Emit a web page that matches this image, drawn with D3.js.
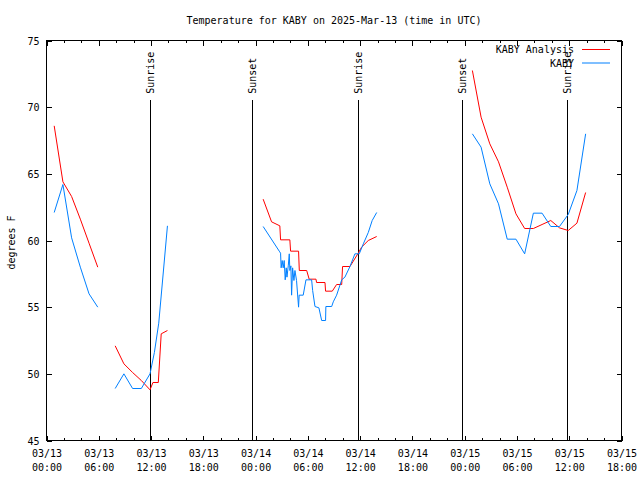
<!DOCTYPE html>
<html><head><meta charset="utf-8">
<script src="https://cdn.jsdelivr.net/npm/d3@7"></script>
<style>
body{margin:0;background:#fff}
svg text{font-family:"DejaVu Sans Mono",monospace;font-size:10px;fill:#000}
</style></head><body>
<svg id="c" width="640" height="480"></svg>
<script>
const title = "Temperature for KABY on 2025-Mar-13 (time in UTC)";
const yLabel = "degrees F";
const seriesNames = ["KABY Analysis", "KABY"];
const seriesColors = ["#ff0000", "#0080ff"];
const yTicks = [45, 50, 55, 60, 65, 70, 75];
const xDomain = ["2025-03-13 00:00", "2025-03-15 18:00"];
const sunTimes = ["2025-03-13 11:53", "2025-03-13 23:40", "2025-03-14 11:49", "2025-03-14 23:45", "2025-03-15 11:48"];
const sunLabels = ["Sunrise", "Sunset", "Sunrise", "Sunset", "Sunrise"];

// null temperature = gap in the line
const analysisTime = [
  "2025-03-13 00:53","2025-03-13 01:53","2025-03-13 02:53","2025-03-13 03:53","2025-03-13 04:53","2025-03-13 05:53",
  "2025-03-13 06:30",
  "2025-03-13 07:53","2025-03-13 08:53","2025-03-13 09:53","2025-03-13 10:53","2025-03-13 11:53","2025-03-13 12:13","2025-03-13 12:50","2025-03-13 13:10","2025-03-13 13:53",
  "2025-03-13 18:00",
  "2025-03-14 00:52","2025-03-14 01:50","2025-03-14 02:47","2025-03-14 02:52","2025-03-14 03:56","2025-03-14 04:01","2025-03-14 04:56","2025-03-14 05:01","2025-03-14 05:52","2025-03-14 06:09","2025-03-14 06:56","2025-03-14 07:00","2025-03-14 07:58","2025-03-14 08:02","2025-03-14 08:48","2025-03-14 09:18","2025-03-14 09:53","2025-03-14 09:59","2025-03-14 10:50","2025-03-14 11:47","2025-03-14 12:10","2025-03-14 12:56","2025-03-14 13:54",
  "2025-03-14 18:00",
  "2025-03-15 00:53","2025-03-15 01:53","2025-03-15 02:53","2025-03-15 03:53","2025-03-15 04:53","2025-03-15 05:53","2025-03-15 06:53","2025-03-15 07:53","2025-03-15 08:53","2025-03-15 09:53","2025-03-15 10:53","2025-03-15 11:53","2025-03-15 12:53","2025-03-15 13:53"
];
const analysisTemp = [
  68.6,64.4,63.3,61.6,59.8,58.0,
  null,
  52.1,50.75,50.1,49.5,48.8,49.35,49.35,53.0,53.25,
  null,
  63.1,61.4,61.1,60.05,60.05,59.2,59.2,57.75,57.75,57.1,57.1,56.85,56.85,56.2,56.2,56.7,56.7,58.05,58.05,59.05,59.5,60.0,60.3,
  null,
  72.75,69.25,67.25,65.9,64.0,62.0,60.9,60.9,61.2,61.5,60.95,60.75,61.3,63.6
];

const obsTime = [
  "2025-03-13 00:53","2025-03-13 01:53","2025-03-13 02:53","2025-03-13 03:53","2025-03-13 04:53","2025-03-13 05:53",
  "2025-03-13 06:30",
  "2025-03-13 07:53","2025-03-13 08:53","2025-03-13 09:53","2025-03-13 10:53","2025-03-13 11:53","2025-03-13 12:23","2025-03-13 12:53","2025-03-13 13:53",
  "2025-03-13 18:00",
  "2025-03-14 00:52","2025-03-14 02:43","2025-03-14 02:52","2025-03-14 02:56","2025-03-14 03:03","2025-03-14 03:10","2025-03-14 03:17","2025-03-14 03:24","2025-03-14 03:31","2025-03-14 03:36","2025-03-14 03:45","2025-03-14 03:52","2025-03-14 03:56","2025-03-14 04:03","2025-03-14 04:08","2025-03-14 04:15","2025-03-14 04:24","2025-03-14 04:31","2025-03-14 04:42","2025-03-14 04:56","2025-03-14 05:00","2025-03-14 05:28","2025-03-14 05:47","2025-03-14 06:26","2025-03-14 06:33","2025-03-14 06:49","2025-03-14 07:16","2025-03-14 07:35","2025-03-14 08:02","2025-03-14 08:04","2025-03-14 08:44","2025-03-14 08:55","2025-03-14 09:18","2025-03-14 09:53","2025-03-14 10:15","2025-03-14 10:50","2025-03-14 11:24","2025-03-14 11:54","2025-03-14 12:22","2025-03-14 12:56","2025-03-14 13:23","2025-03-14 13:54",
  "2025-03-14 18:00",
  "2025-03-15 00:53","2025-03-15 01:53","2025-03-15 02:53","2025-03-15 03:53","2025-03-15 04:53","2025-03-15 05:53","2025-03-15 06:53","2025-03-15 07:53","2025-03-15 08:53","2025-03-15 09:53","2025-03-15 10:53","2025-03-15 11:53","2025-03-15 12:53","2025-03-15 13:53"
];
const obsTemp = [
  62.1,64.2,60.2,58.0,56.0,55.0,
  null,
  48.9,50.0,48.9,48.9,50.0,51.6,53.8,61.1,
  null,
  61.05,59.2,59.05,57.95,58.5,57.95,58.5,57.05,57.95,57.25,58.1,59.0,57.75,58.1,55.9,57.95,57.0,57.75,57.0,55.0,55.9,55.9,57.05,57.05,56.25,55.05,54.95,54.0,54.0,55.05,55.05,55.4,55.9,57.05,57.25,58.05,59.0,59.0,59.75,60.6,61.5,62.1,
  null,
  68.0,67.0,64.25,62.75,60.1,60.1,59.0,62.05,62.05,61.05,61.05,61.95,63.75,68.0
];

const parse = d3.utcParse("%Y-%m-%d %H:%M");
const svg = d3.select("#c");
const L = 46.5, R = 621.5, T = 40.5, B = 440.5;
const x = d3.scaleUtc().domain(xDomain.map(parse)).range([L, R]);
const y = d3.scaleLinear().domain([45, 75]).range([B, T]);

const g = svg.append("g").attr("shape-rendering", "crispEdges");

const majors = d3.utcHour.every(6).range(x.domain()[0], d3.utcMinute.offset(x.domain()[1], 1));
const minors = d3.utcHour.every(2).range(x.domain()[0], x.domain()[1]).filter(d => d.getUTCHours() % 6 !== 0);

function styleAxis(sel) {
  sel.select(".domain").remove();
  sel.selectAll("line").attr("stroke", "#000");
  sel.attr("font-size", null).attr("font-family", null);
}

g.append("g").attr("transform", `translate(0,${B})`)
  .call(d3.axisBottom(x).tickValues(minors).tickSize(-2.5).tickFormat(""))
  .call(styleAxis);
g.append("g").attr("transform", `translate(0,${T})`)
  .call(d3.axisTop(x).tickValues(minors).tickSize(-2.5).tickFormat(""))
  .call(styleAxis);
g.append("g").attr("transform", `translate(0,${T})`)
  .call(d3.axisTop(x).tickValues(majors).tickSize(-5).tickFormat(""))
  .call(styleAxis);

const fmt1 = d3.utcFormat("%m/%d"), fmt2 = d3.utcFormat("%H:%M");
const xb = g.append("g").attr("transform", `translate(0,${B})`)
  .call(d3.axisBottom(x).tickValues(majors).tickSize(-5).tickPadding(0).tickFormat(""))
  .call(styleAxis);
xb.selectAll(".tick").each(function(d) {
  const t = d3.select(this).append("text").attr("text-anchor", "middle");
  t.append("tspan").attr("x", 0).attr("y", 16).text(fmt1(d));
  t.append("tspan").attr("x", 0).attr("y", 30).text(fmt2(d));
});

const yl = g.append("g").attr("transform", `translate(${L},0)`)
  .call(d3.axisLeft(y).tickValues(yTicks).tickSize(-5).tickPadding(7))
  .call(styleAxis);
yl.selectAll("text").attr("dy", "0.35em").attr("fill", "#000");
g.append("g").attr("transform", `translate(${R},0)`)
  .call(d3.axisRight(y).tickValues(yTicks).tickSize(-5).tickFormat(""))
  .call(styleAxis);

// sunrise / sunset
sunTimes.forEach((s, i) => {
  const xp = x(parse(s));
  g.append("line").attr("x1", xp).attr("x2", xp).attr("y1", y(70.55)).attr("y2", B).attr("stroke", "#000");
  svg.append("text").attr("transform", `translate(${xp},${y(71)}) rotate(-90)`)
    .attr("text-anchor", "start").attr("dy", "0.35em").text(sunLabels[i]);
});

// series
const line = d3.line().defined(d => d.v != null).x(d => x(d.t)).y(d => y(d.v));
const analysis = analysisTime.map((t, i) => ({ t: parse(t), v: analysisTemp[i] }));
const obs = obsTime.map((t, i) => ({ t: parse(t), v: obsTemp[i] }));
[analysis, obs].forEach((data, i) => {
  svg.append("path").datum(data).attr("d", line)
    .style("fill", "none").style("stroke", seriesColors[i]).style("stroke-width", "1px");
});

// frame
g.append("rect").attr("x", L).attr("y", T).attr("width", R - L).attr("height", B - T)
  .style("fill", "none").style("stroke", "#000");

// title and labels
svg.append("text").attr("x", (L + R) / 2).attr("y", 24).attr("text-anchor", "middle").text(title);
svg.append("text").attr("transform", "translate(11,242.5) rotate(-90)").attr("text-anchor", "middle").attr("dy", "0.35em").text(yLabel);

// legend
const legend = svg.append("g").attr("class", "legend");
legend.selectAll("rect.sw").data(seriesNames).join("rect").attr("class", "sw")
  .attr("x", 582).attr("width", 28)
  .attr("y", (d, i) => 49 + i * 13.5).attr("height", 1)
  .style("fill", (d, i) => seriesColors[i]);
legend.selectAll("text.lg").data(seriesNames).join("text").attr("class", "lg")
  .attr("x", 574).attr("y", (d, i) => 49.5 + i * 13.5).attr("dy", "0.35em")
  .attr("text-anchor", "end").text(d => d);
</script>
</body></html>
